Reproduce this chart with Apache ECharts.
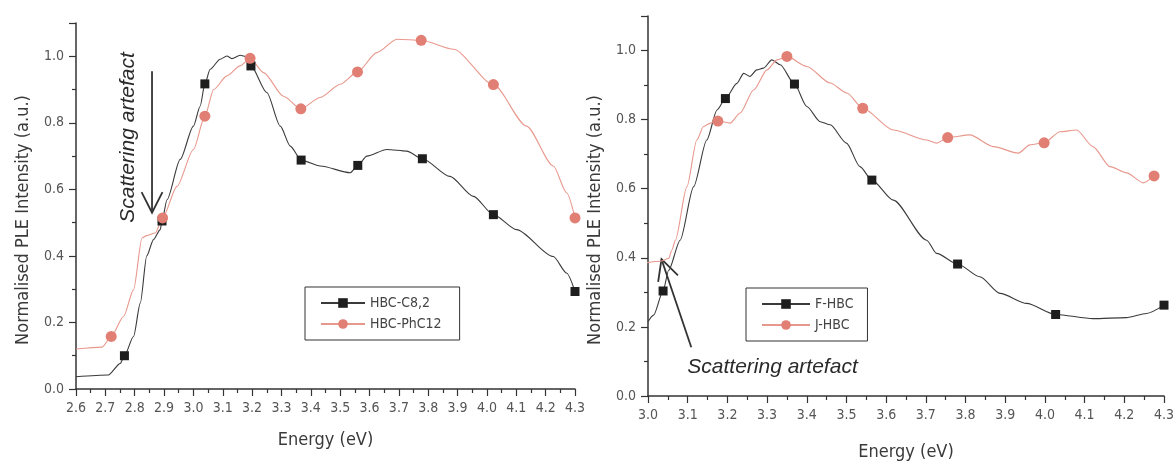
<!DOCTYPE html>
<html>
<head>
<meta charset="utf-8">
<script src="https://cdn.jsdelivr.net/npm/echarts@6/dist/echarts.min.js"></script>
<style>
  html, body { margin: 0; padding: 0; background: #ffffff; }
  #chart { width: 1176px; height: 463px; }
</style>
</head>
<body>
<div id="chart"></div>
<script>
// ---- Left panel: HBC-C8,2 and HBC-PhC12 (energy in eV, normalised intensity) ----
const leftC82Curve = [[2.6,0.037],[2.71,0.042],[2.751,0.077],[2.796,0.158],[2.819,0.258],[2.841,0.40],[2.864,0.449],[2.887,0.479],[2.91,0.569],[2.955,0.69],[3.0,0.79],[3.023,0.85],[3.057,0.961],[3.091,0.991],[3.114,1.001],[3.131,0.993],[3.159,1.003],[3.182,0.999],[3.25,0.891],[3.296,0.79],[3.33,0.73],[3.432,0.67],[3.534,0.65],[3.591,0.70],[3.659,0.72],[3.727,0.715],[3.874,0.639],[3.954,0.579],[4.101,0.479],[4.226,0.398],[4.272,0.348]];
const leftC82Markers = [[2.765,0.10],[2.893,0.505],[3.039,0.917],[3.196,0.971],[3.367,0.688],[3.56,0.672],[3.78,0.692],[4.022,0.524],[4.30,0.293]];

const leftPhCurve = [[2.6,0.12],[2.689,0.126],[2.762,0.218],[2.796,0.298],[2.825,0.454],[2.841,0.461],[2.87,0.469],[2.944,0.609],[3.0,0.72],[3.069,0.90],[3.114,0.941],[3.159,0.971],[3.239,0.951],[3.307,0.88],[3.432,0.876],[3.50,0.916],[3.625,1.011],[3.693,1.051],[3.886,1.021],[4.135,0.79],[4.226,0.67],[4.272,0.589]];
const leftPhMarkers = [[2.72,0.158],[2.895,0.514],[3.039,0.82],[3.193,0.994],[3.366,0.842],[3.559,0.953],[3.776,1.048],[4.022,0.915],[4.30,0.514]];

// ---- Right panel: F-HBC and J-HBC ----
const rightFCurve = [[3.0,0.215],[3.014,0.234],[3.052,0.364],[3.081,0.451],[3.115,0.606],[3.148,0.741],[3.174,0.828],[3.224,0.905],[3.241,0.934],[3.257,0.925],[3.274,0.944],[3.291,0.949],[3.312,0.973],[3.333,0.959],[3.40,0.838],[3.434,0.794],[3.459,0.785],[3.50,0.732],[3.534,0.664],[3.618,0.567],[3.702,0.451],[3.727,0.413],[3.836,0.345],[3.887,0.297],[3.954,0.268],[4.121,0.224],[4.205,0.227],[4.256,0.239]];
const rightFMarkers = [[3.038,0.304],[3.195,0.861],[3.369,0.903],[3.564,0.625],[3.78,0.382],[4.027,0.236],[4.30,0.263]];

const rightJCurve = [[2.968,0.381],[3.031,0.39],[3.052,0.398],[3.06,0.422],[3.069,0.451],[3.098,0.606],[3.123,0.741],[3.14,0.78],[3.157,0.79],[3.207,0.79],[3.232,0.819],[3.266,0.886],[3.30,0.944],[3.325,0.973],[3.40,0.954],[3.459,0.906],[3.501,0.877],[3.618,0.77],[3.702,0.741],[3.727,0.732],[3.811,0.756],[3.87,0.722],[3.933,0.703],[3.962,0.727],[4.038,0.765],[4.08,0.77],[4.121,0.722],[4.164,0.664],[4.206,0.646],[4.248,0.617]];
const rightJMarkers = [[3.176,0.796],[3.35,0.983],[3.541,0.833],[3.755,0.748],[3.998,0.733],[4.275,0.637]];

const seriesNames = ['HBC-C8,2', 'HBC-PhC12', 'F-HBC', 'J-HBC'];
const axisTitleX = 'Energy (eV)';
const axisTitleY = 'Normalised PLE Intensity (a.u.)';
const noteText = 'Scattering artefact';

// annotation anchors, in data units of each panel
const leftNote = { text: [2.778, 0.756], tail: [2.859, 0.955], tip: [2.859, 0.53] };
const rightNote = { text: [3.099, 0.083], tail: [3.109, 0.141], tip: [3.034, 0.396] };

const FONT = "'Liberation Sans Narrow', 'DejaVu Sans Condensed', 'Open Sans', sans-serif";
const DARK = '#333333';
const BLACK_LINE = '#3a3a3a';
const BLACK_MARK = '#1e1e1e';
const RED_LINE = '#e8978c';
const RED_MARK = '#e27f74';

// merge a dense curve with its marker points; only marker points carry a symbol
function mergeCurve(curve, markers) {
  const pts = curve.map(p => ({ value: p, symbol: 'none' }))
    .concat(markers.map(p => ({ value: p })));
  pts.sort((a, b) => a.value[0] - b.value[0]);
  return pts;
}

function xAxisCfg(gridIndex, min, max, gap) {
  return {
    type: 'value', gridIndex, min, max, interval: 0.1,
    name: axisTitleX, nameLocation: 'middle', nameGap: gap,
    nameTextStyle: { fontFamily: FONT, fontSize: 18, color: '#3a3a3a' },
    axisLine: { show: true, onZero: false, lineStyle: { color: DARK, width: 1.5 } },
    axisTick: { show: true, length: 7, lineStyle: { color: DARK, width: 1.2 } },
    minorTick: { show: true, splitNumber: 2, length: 4, lineStyle: { color: DARK, width: 1.2 } },
    axisLabel: { margin: 12, fontFamily: FONT, fontSize: 14, color: '#555', formatter: v => v.toFixed(1) },
    splitLine: { show: false }
  };
}

function yAxisCfg(gridIndex) {
  return {
    type: 'value', gridIndex, min: 0, max: 1.1, interval: 0.2,
    name: axisTitleY, nameLocation: 'middle', nameGap: 44, nameRotate: 90,
    nameTextStyle: { fontFamily: FONT, fontSize: 18, color: '#3a3a3a', padding: [0, 28, 0, 0] },
    axisLine: { show: true, onZero: false, lineStyle: { color: DARK, width: 1.5 } },
    axisTick: { show: true, length: 7, lineStyle: { color: DARK, width: 1.2 } },
    minorTick: { show: true, splitNumber: 2, length: 4, lineStyle: { color: DARK, width: 1.2 } },
    axisLabel: { margin: 12, fontFamily: FONT, fontSize: 14, color: '#555', showMaxLabel: false,
      formatter: v => v.toFixed(1) },
    splitLine: { show: false }
  };
}

function lineSeries(name, idx, curve, markers, kind) {
  const isBlack = kind === 'black';
  return {
    name, type: 'line', xAxisIndex: idx, yAxisIndex: idx,
    data: mergeCurve(curve, markers),
    smooth: 0.25, smoothMonotone: 'x', clip: false,
    symbol: isBlack ? 'rect' : 'circle',
    symbolSize: isBlack ? 9 : 11,
    showSymbol: true,
    lineStyle: { color: isBlack ? BLACK_LINE : RED_LINE, width: 1.1 },
    itemStyle: { color: isBlack ? BLACK_MARK : RED_MARK },
    emphasis: { disabled: true },
    animation: false
  };
}

function legendCfg(names, left, top, itemWidth, padRight) {
  return {
    data: names, orient: 'vertical', left, top,
    padding: [9, padRight, 9, 15],
    borderColor: DARK, borderWidth: 1,
    itemWidth, itemHeight: 12, itemGap: 7,
    textStyle: { fontFamily: FONT, fontSize: 14, color: '#444' },
    selectedMode: false
  };
}

const chart = echarts.init(document.getElementById('chart'), null, { renderer: 'canvas' });

chart.setOption({
  backgroundColor: '#ffffff',
  animation: false,
  grid: [
    { left: 76, top: 23, width: 499, height: 366, outerBoundsMode: 'none', containLabel: false },
    { left: 648, top: 16, width: 516, height: 380, outerBoundsMode: 'none', containLabel: false }
  ],
  xAxis: [xAxisCfg(0, 2.6, 4.3, 42), xAxisCfg(1, 3.0, 4.3, 47)],
  yAxis: [yAxisCfg(0), yAxisCfg(1)],
  legend: [
    legendCfg([seriesNames[0], seriesNames[1]], 305, 287, 44, 18),
    legendCfg([seriesNames[2], seriesNames[3]], 746, 288, 48, 14)
  ],
  series: [
    lineSeries(seriesNames[0], 0, leftC82Curve, leftC82Markers, 'black'),
    lineSeries(seriesNames[1], 0, leftPhCurve, leftPhMarkers, 'red'),
    lineSeries(seriesNames[2], 1, rightFCurve, rightFMarkers, 'black'),
    lineSeries(seriesNames[3], 1, rightJCurve, rightJMarkers, 'red')
  ]
});

// open-headed arrow from tail to tip, in pixels
function arrow(tail, tip) {
  const dx = tail[0] - tip[0], dy = tail[1] - tip[1];
  const len = Math.hypot(dx, dy);
  const ux = dx / len, uy = dy / len;
  const head = 23, ang = 27 * Math.PI / 180;
  const rot = (a) => [tip[0] + head * (ux * Math.cos(a) - uy * Math.sin(a)),
                      tip[1] + head * (ux * Math.sin(a) + uy * Math.cos(a))];
  const style = { stroke: DARK, lineWidth: 1.8, fill: null };
  return [
    { type: 'line', shape: { x1: tail[0], y1: tail[1], x2: tip[0], y2: tip[1] }, style },
    { type: 'polyline', shape: { points: [rot(ang), tip, rot(-ang)] }, style }
  ];
}

const px = (g, p) => chart.convertToPixel({ gridIndex: g }, p);
const lt = px(0, leftNote.text);
const rt = px(1, rightNote.text);
const noteStyle = { text: noteText, fontFamily: "'Liberation Sans', Arial, sans-serif",
  fontStyle: 'italic', fontSize: 21, fill: '#2a2a2a' };

chart.setOption({
  graphic: [
    { type: 'text', x: lt[0], y: lt[1], rotation: Math.PI / 2,
      style: Object.assign({ align: 'center', verticalAlign: 'middle' }, noteStyle) },
    ...arrow(px(0, leftNote.tail), px(0, leftNote.tip)),
    { type: 'text', x: rt[0], y: rt[1],
      style: Object.assign({ align: 'left', verticalAlign: 'middle' }, noteStyle) },
    ...arrow(px(1, rightNote.tail), px(1, rightNote.tip))
  ]
});
</script>
</body>
</html>
